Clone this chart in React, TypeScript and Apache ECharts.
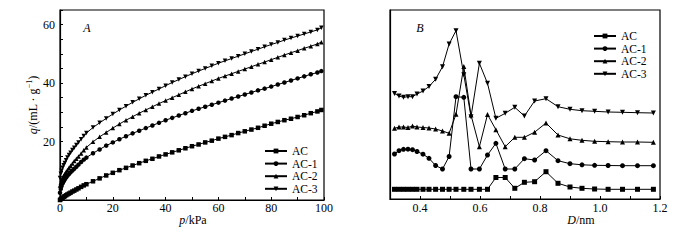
import React, { useEffect, useRef } from "react";
import * as echarts from "echarts";

// ---------- Panel A: adsorption isotherms ----------
const pressure = [0, 0.3, 0.6, 1, 1.4, 1.8, 2.3, 2.8, 3.4, 4, 4.7, 5.4, 6.2, 7, 8, 9, 10,
  12.5, 15, 17.5, 20, 22.5, 25, 27.5, 30, 32.5, 35, 37.5, 40, 42.5, 45, 47.5, 50, 52.5, 55, 57.5,
  60, 62.5, 65, 67.5, 70, 72.5, 75, 77.5, 80, 82.5, 85, 87.5, 90, 92.5, 95, 97.5, 99];

const isoAC = [0, 0.3, 0.5, 0.8, 1.1, 1.3, 1.6, 1.9, 2.2, 2.5, 2.9, 3.2, 3.6, 4.0, 4.5, 5.0, 5.4,
  6.4, 7.4, 8.4, 9.3, 10.2, 11.0, 11.8, 12.6, 13.4, 14.1, 14.9, 15.6, 16.3, 17.0, 17.7, 18.4, 19.0, 19.7, 20.3,
  21.0, 21.6, 22.2, 22.9, 23.5, 24.1, 24.7, 25.4, 26.1, 26.7, 27.3, 27.8, 28.4, 29.0, 29.7, 30.3, 30.8];

const isoAC1 = [2.5, 3.8, 4.8, 5.7, 6.4, 7.0, 7.7, 8.3, 8.9, 9.5, 10.1, 10.7, 11.4, 12.1, 13.0, 13.8, 14.5,
  16.0, 17.3, 18.6, 19.7, 20.8, 21.8, 22.8, 23.7, 24.6, 25.5, 26.4, 27.3, 28.1, 28.9, 29.7, 30.5, 31.2, 31.9, 32.6,
  33.3, 34.0, 34.7, 35.4, 36.1, 36.8, 37.5, 38.1, 38.8, 39.5, 40.2, 40.9, 41.6, 42.3, 43.0, 43.6, 44.1];

const isoAC2 = [5.0, 6.0, 6.8, 7.6, 8.3, 8.9, 9.6, 10.3, 11.0, 11.7, 12.5, 13.3, 14.1, 14.9, 15.9, 17.0, 18.0,
  19.9, 21.6, 23.1, 24.6, 26.0, 27.3, 28.5, 29.7, 30.8, 31.9, 33.0, 34.0, 35.0, 36.0, 37.0, 38.0, 38.9, 39.8, 40.7,
  41.6, 42.4, 43.2, 44.0, 44.8, 45.6, 46.4, 47.2, 48.0, 48.8, 49.6, 50.4, 51.1, 51.9, 52.6, 53.4, 54.0];

const isoAC3 = [7.5, 9.0, 10.0, 11.0, 11.9, 12.7, 13.6, 14.5, 15.4, 16.2, 17.1, 17.9, 18.8, 19.7, 20.8, 21.9, 22.9,
  24.8, 26.4, 27.9, 29.4, 30.8, 32.1, 33.4, 34.6, 35.8, 36.9, 38.0, 39.1, 40.2, 41.2, 42.2, 43.2, 44.1, 45.0, 45.9,
  46.8, 47.6, 48.4, 49.2, 50.0, 50.8, 51.6, 52.4, 53.2, 53.9, 54.7, 55.4, 56.1, 56.8, 57.5, 58.2, 58.9];

// ---------- Panel B: pore size distributions (arbitrary, stacked offsets) ----------
const poreWidth = [0.315, 0.33, 0.345, 0.36, 0.375, 0.39, 0.41, 0.43, 0.452, 0.475, 0.497, 0.52, 0.546, 0.57,
  0.598, 0.625, 0.653, 0.684, 0.716, 0.748, 0.782, 0.82, 0.86, 0.9, 0.94, 0.982, 1.027, 1.075, 1.125, 1.178];

const psdAC = [9.7, 9.7, 9.7, 9.7, 9.7, 9.7, 9.7, 9.7, 9.7, 9.7, 9.7, 9.7, 9.7, 9.7, 9.7, 9.7,
  21.5, 21.5, 10.7, 16.7, 17.3, 27.3, 15.7, 12, 10.7, 10, 9.7, 9.7, 9.7, 9.7];

const psdAC1 = [45, 48.3, 49.7, 49.8, 49.3, 47.5, 44.8, 40.7, 33.5, 30, 42.5, 102.3, 101.7, 30, 30,
  44, 55.7, 30, 30, 40.3, 39, 48.3, 38.3, 35.3, 34.2, 33.7, 33.5, 33.3, 33.3, 33.3];

const psdAC2 = [70.7, 72, 72, 71.5, 73, 72, 71.5, 71, 70, 68, 65.7, 84.7, 132.5, 84, 52.3,
  84.5, 69.3, 52.3, 61.7, 61.7, 66.8, 76, 64, 60.2, 58.7, 57.7, 57.3, 57, 57, 56.7];

const psdAC3 = [105.5, 103, 101.7, 102.3, 102.3, 105, 108, 112.5, 119.7, 132.3, 155, 168.3, 124.3, 82.3, 135.7,
  115.7, 80.7, 85.7, 91.7, 83, 98, 100.3, 92.3, 89.7, 88.3, 87.7, 87, 86.7, 86.3, 86];

const seriesNames = ["AC", "AC-1", "AC-2", "AC-3"];
const xTicksB = [0.4, 0.6, 0.8, 1.0, 1.2];

const FONT = '"Liberation Serif", "Times New Roman", serif';

export default function App() {
  const ref = useRef<HTMLDivElement>(null);

  useEffect(() => {
    if (!ref.current) return;
    const chart = echarts.init(ref.current, undefined, { renderer: "svg" });

    const symbols = ["rect", "circle", "triangle", "triangle"];
    const rotates = [0, 0, 0, 180];
    const isoData = [isoAC, isoAC1, isoAC2, isoAC3];
    const psdData = [psdAC, psdAC1, psdAC2, psdAC3];

    const lineBase = (i: number, size: number) => ({
      type: "line" as const,
      name: seriesNames[i],
      symbol: symbols[i],
      symbolRotate: rotates[i],
      symbolSize: size,
      lineStyle: { color: "#000", width: 1 },
      itemStyle: { color: "#000" },
      clip: false,
    });

    const series: any[] = [];
    isoData.forEach((arr, i) => {
      series.push({
        ...lineBase(i, 4.5),
        xAxisIndex: 0,
        yAxisIndex: 0,
        data: pressure.map((p, k) => [p, arr[k]]),
      });
    });
    psdData.forEach((arr, i) => {
      series.push({
        ...lineBase(i, 5),
        xAxisIndex: 1,
        yAxisIndex: 1,
        data: poreWidth.map((d, k) => [d, arr[k]]),
      });
    });

    const axisCommon = {
      axisLine: { show: true, onZero: false, lineStyle: { color: "#000", width: 1.2 } },
      splitLine: { show: false },
      axisLabel: { color: "#000", fontSize: 12, fontFamily: FONT },
    };

    const legendCommon = {
      orient: "vertical" as const,
      data: seriesNames,
      itemWidth: 22,
      itemHeight: 6,
      itemGap: 0.6,
      selectedMode: false,
      textStyle: { color: "#000", fontSize: 11.5, fontFamily: FONT, lineHeight: 11.8 },
    };

    chart.setOption({
      animation: false,
      backgroundColor: "#fff",
      grid: [
        { left: 60, top: 10, width: 264, height: 190, show: true, borderColor: "#000", borderWidth: 1.2, backgroundColor: "transparent" },
        { left: 390, top: 10, width: 270, height: 189, show: true, borderColor: "#000", borderWidth: 1.2, backgroundColor: "transparent" },
      ],
      xAxis: [
        {
          ...axisCommon,
          gridIndex: 0,
          type: "value",
          min: 0,
          max: 100,
          interval: 10,
          axisTick: { show: true, inside: true, length: 3, lineStyle: { color: "#000" } },
          axisLabel: {
            ...axisCommon.axisLabel,
            margin: 2,
            formatter: (v: number) => (Math.round(v) % 20 === 0 ? String(Math.round(v)) : ""),
          },
        },
        {
          ...axisCommon,
          gridIndex: 1,
          type: "value",
          min: 0.3,
          max: 1.2,
          interval: 0.1,
          axisTick: { show: true, inside: true, length: 3, lineStyle: { color: "#000" } },
          axisLabel: {
            ...axisCommon.axisLabel,
            margin: 3,
            formatter: (v: number) => {
              const hit = xTicksB.find((t) => Math.abs(t - v) < 1e-6);
              return hit !== undefined ? hit.toFixed(1) : "";
            },
          },
        },
      ],
      yAxis: [
        {
          ...axisCommon,
          gridIndex: 0,
          type: "value",
          min: 0,
          max: 65,
          interval: 5,
          axisTick: { show: true, inside: true, length: 3, lineStyle: { color: "#000" } },
          axisLabel: {
            ...axisCommon.axisLabel,
            margin: 5,
            formatter: (v: number) => {
              const r = Math.round(v);
              return r > 0 && r % 20 === 0 ? String(r) : "";
            },
          },
        },
        {
          ...axisCommon,
          gridIndex: 1,
          type: "value",
          min: 0,
          max: 189,
          axisTick: { show: false },
          axisLabel: { show: false },
        },
      ],
      legend: [
        { ...legendCommon, left: 259, top: 140 },
        { ...legendCommon, left: 588, top: 25 },
      ],
      graphic: [
        {
          type: "text",
          x: 87,
          y: 28,
          style: { text: "A", fontFamily: FONT, fontSize: 12, fontStyle: "italic", fill: "#000", align: "center", verticalAlign: "middle" },
        },
        {
          type: "text",
          x: 420,
          y: 28,
          style: { text: "B", fontFamily: FONT, fontSize: 12, fontStyle: "italic", fill: "#000", align: "center", verticalAlign: "middle" },
        },
        {
          type: "text",
          x: 193,
          y: 220,
          style: {
            text: "{i|p}/kPa",
            fontFamily: FONT,
            fontSize: 12,
            fill: "#000",
            align: "center",
            verticalAlign: "middle",
            rich: { i: { fontStyle: "italic", fontFamily: FONT, fontSize: 12 } },
          },
        },
        {
          type: "text",
          x: 581,
          y: 220,
          style: {
            text: "{i|D}/nm",
            fontFamily: FONT,
            fontSize: 12,
            fill: "#000",
            align: "center",
            verticalAlign: "middle",
            rich: { i: { fontStyle: "italic", fontFamily: FONT, fontSize: 12 } },
          },
        },
        {
          type: "text",
          x: 32,
          y: 105,
          rotation: Math.PI / 2,
          style: {
            text: "{i|q}{n|/(mL · g}{s|−1}{n|)}",
            fontFamily: FONT,
            fontSize: 12,
            fill: "#000",
            align: "center",
            verticalAlign: "middle",
            rich: {
              i: { fontStyle: "italic", fontFamily: FONT, fontSize: 12, lineHeight: 14, verticalAlign: "bottom" },
              n: { fontFamily: FONT, fontSize: 12, lineHeight: 14, verticalAlign: "bottom" },
              s: { fontFamily: FONT, fontSize: 8, lineHeight: 8, verticalAlign: "top" },
            },
          },
        },
      ],
      series,
    });

    return () => chart.dispose();
  }, []);

  return (
    <div
      ref={ref}
      style={{ position: "fixed", left: 0, top: 0, width: 700, height: 240, background: "#fff" }}
    />
  );
}
